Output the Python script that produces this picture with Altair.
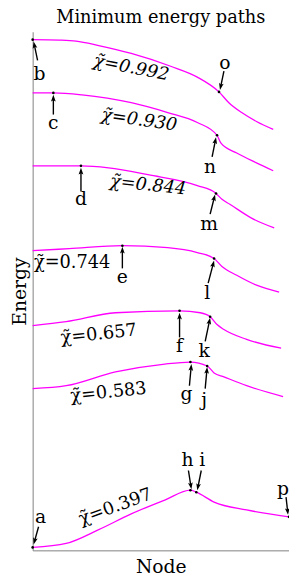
import math
import altair as alt
import pandas as pd

# ---- curve data (node position, energy) ----
curve_names = ["0.992", "0.930", "0.844", "0.744", "0.657", "0.583", "0.397"]
c1_x = [0, 2.7, 4.4, 6.7, 10.0, 14.0, 16.7, 18.9, 19.9, 21.2, 22.7, 24.4]
c1_y = [51.8, 51.75, 51.65, 51.2, 50.4, 49.1, 48.0, 46.5, 45.4, 44.4, 43.5, 42.7]
c2_x = [0, 2.1, 5.0, 10.0, 13.7, 16.7, 18.7, 19.1, 20.7, 22.7, 24.4]
c2_y = [46.4, 46.4, 46.2, 45.4, 44.4, 43.4, 42.1, 41.3, 40.3, 39.3, 38.5]
c3_x = [0, 4.9, 7.7, 11.7, 16.7, 18.6, 19.2, 20.0, 22.2, 24.5]
c3_y = [39.0, 39.0, 38.8, 38.1, 37.0, 36.2, 35.6, 35.1, 33.7, 32.7]
c4_x = [0, 3.7, 9.1, 13.7, 16.7, 18.4, 19.2, 20.7, 22.7, 25.0]
c4_y = [30.4, 30.6, 30.9, 30.7, 30.2, 29.6, 28.8, 27.9, 26.9, 26.2]
c5_x = [0, 3.4, 8.4, 14.9, 17.0, 18.0, 18.7, 19.4, 21.7, 25.2]
c5_y = [22.8, 23.2, 24.1, 24.3, 24.1, 23.7, 22.9, 22.4, 21.4, 20.5]
c6_x = [0, 3.4, 8.4, 13.4, 16.0, 17.7, 18.4, 19.4, 21.7, 25.4]
c6_y = [16.4, 16.7, 18.1, 18.9, 19.1, 18.7, 18.0, 17.6, 16.7, 15.6]
c7_x = [0, 3.4, 6.7, 10.0, 13.4, 16.0, 16.6, 18.4, 21.7, 26.0]
c7_y = [0.3, 0.7, 2.1, 3.7, 5.1, 6.1, 5.9, 4.9, 4.1, 3.4]

# ---- chi labels ----
chi_vals = ["0.992", "0.930", "0.844", "0.744", "0.657", "0.583", "0.397"]
chi_x = [10.0, 10.8, 11.7, 4.0, 6.7, 7.7, 8.4]
chi_y = [48.9, 43.6, 37.0, 29.1, 21.9, 16.0, 4.4]
chi_angle = [11, 8, 6, 0, -6, -6, -20]
chi_italic = [True, True, True, False, False, False, False]

# ---- marked points and arrows ----
pt_names = list("abcdefghijklmnop")
pt_x = [0, 0, 2.1, 4.9, 9.1, 14.9, 16.0, 16.0, 16.6, 17.7, 18.0, 18.4, 18.6, 18.7, 18.9, 26.0]
pt_y = [0.3, 51.8, 46.4, 39.0, 30.9, 24.3, 19.1, 6.1, 5.9, 18.7, 23.7, 29.6, 36.2, 42.1, 46.5, 3.4]
lab_x = [0.8, 0.7, 2.1, 4.9, 9.1, 14.9, 15.6, 15.7, 17.2, 17.4, 17.4, 17.7, 17.9, 18.0, 19.5, 25.4]
lab_y = [3.4, 48.3, 43.3, 35.6, 27.7, 20.7, 15.9, 9.2, 9.2, 15.2, 20.2, 26.1, 33.1, 38.9, 49.4, 6.2]
tail_x = [0.6, 0.5, 2.1, 4.9, 9.1, 14.9, 15.9, 15.8, 17.1, 17.5, 17.5, 17.8, 18.0, 18.2, 19.4, 25.7]
tail_y = [2.4, 49.7, 44.2, 36.4, 28.6, 21.6, 16.7, 8.1, 8.1, 16.4, 21.2, 27.1, 34.1, 39.9, 48.6, 5.4]
tip_x = [0.1, 0.1, 2.1, 4.9, 9.1, 14.9, 16.1, 16.1, 16.7, 17.7, 18.0, 18.4, 18.5, 18.6, 19.0, 25.9]
tip_y = [0.6, 51.6, 46.2, 38.8, 30.8, 24.1, 18.9, 6.2, 6.1, 18.6, 23.6, 29.4, 36.1, 41.9, 46.7, 3.6]

XDOM = [0, 26]
YDOM = [0, 52.6]
W, H = 260, 526
SERIF = "DejaVu Serif"

rows = []
for name, xs, ys in zip(curve_names,
                        [c1_x, c2_x, c3_x, c4_x, c5_x, c6_x, c7_x],
                        [c1_y, c2_y, c3_y, c4_y, c5_y, c6_y, c7_y]):
    for i, (a, b) in enumerate(zip(xs, ys)):
        rows.append({"curve": name, "order": i, "x": a, "y": b})
curves = pd.DataFrame(rows)

arrows = []
for n, tx, ty, hx, hy in zip(pt_names, tail_x, tail_y, tip_x, tip_y):
    dx, dy = hx - tx, hy - ty
    L = math.hypot(dx, dy)
    ux, uy = dx / L, dy / L
    cx, cy = hx - 0.4 * ux, hy - 0.4 * uy
    ang = math.degrees(math.atan2(dx, dy)) % 360
    arrows.append({"name": n, "x": tx, "y": ty, "x2": cx, "y2": cy, "cx": cx, "cy": cy, "ang": ang})
arrows = pd.DataFrame(arrows)

pts = pd.DataFrame({"name": pt_names, "x": pt_x, "y": pt_y})
labs = pd.DataFrame({"name": pt_names, "x": lab_x, "y": lab_y})
chi = pd.DataFrame({"txt": ["\u03c7\u0303=" + v for v in chi_vals], "x": chi_x, "y": chi_y,
                    "ang": [a % 360 for a in chi_angle], "it": chi_italic})

xs = alt.Scale(domain=XDOM, nice=False, zero=False)
ys = alt.Scale(domain=YDOM, nice=False, zero=False)
xaxis = alt.Axis(title="Node", ticks=False, labels=False, grid=False, domainColor="#808080",
                 titleFont=SERIF, titleFontSize=19, titleFontWeight="normal", titleColor="#000",
                 titlePadding=7)
yaxis = alt.Axis(title="Energy", ticks=False, labels=False, grid=False, domainColor="#808080",
                 titleFont=SERIF, titleFontSize=19, titleFontWeight="normal", titleColor="#000",
                 titlePadding=3)

def X(f="x"):
    return alt.X(f + ":Q", scale=xs, axis=xaxis)

def Y(f="y"):
    return alt.Y(f + ":Q", scale=ys, axis=yaxis)

lines = alt.Chart(curves).mark_line(color="#ff00ff", strokeWidth=1.3, interpolate="monotone").encode(
    x=X(), y=Y(), detail="curve:N", order="order:Q")

rules = alt.Chart(arrows).mark_rule(color="black", strokeWidth=1.4).encode(
    x=X(), y=Y(), x2="x2:Q", y2="y2:Q")

heads = alt.Chart(arrows).mark_point(shape="M0,-1L0.6,0.7L0,0.35L-0.6,0.7Z", filled=True,
                                      color="black", opacity=1, size=64).encode(
    x=X("cx"), y=Y("cy"), angle=alt.Angle("ang:Q", scale=None))

dots = alt.Chart(pts).mark_circle(color="black", size=7, opacity=1).encode(x=X(), y=Y())

letters = alt.Chart(labs).mark_text(font=SERIF, fontSize=19, color="black").encode(
    x=X(), y=Y(), text="name:N")

chi_it = alt.Chart(chi[chi["it"]]).mark_text(font=SERIF, fontSize=18, fontStyle="italic", color="black").encode(
    x=X(), y=Y(), text="txt:N", angle=alt.Angle("ang:Q", scale=None))
chi_up = alt.Chart(chi[~chi["it"]]).mark_text(font=SERIF, fontSize=18, color="black").encode(
    x=X(), y=Y(), text="txt:N", angle=alt.Angle("ang:Q", scale=None))

chart = alt.layer(lines, rules, heads, dots, letters, chi_it, chi_up).properties(
    width=W, height=H,
    title=alt.Title("Minimum energy paths", font=SERIF, fontSize=18, fontWeight="normal",
                    anchor="middle", offset=5, color="#000"),
    autosize=alt.AutoSizeParams(type="none"),
    padding={"left": 25, "top": 20, "right": 0, "bottom": 28},
).configure_view(stroke=None).configure_axisX(domainWidth=1).configure_axisY(domainWidth=1)

chart.save("out.html", embed_options={"renderer": "svg", "actions": False})
